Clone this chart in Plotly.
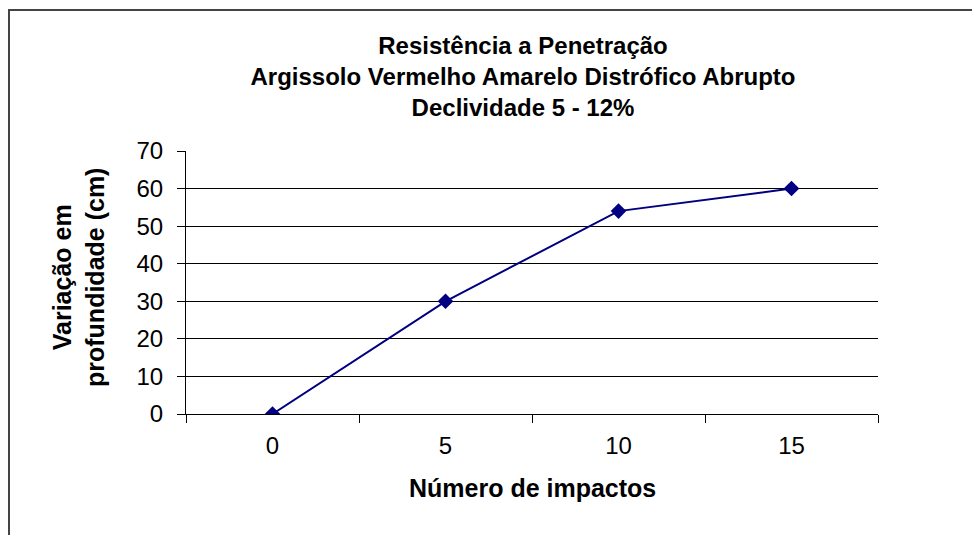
import plotly.graph_objects as go

# data
impactos = ["0", "5", "10", "15"]
profundidade = [0, 30, 54, 60]
y_ticks = [0, 10, 20, 30, 40, 50, 60, 70]
grid_vals = [10, 20, 30, 40, 50, 60]

FONT = "Liberation Sans, Arial, sans-serif"

# page body adds ~8px offset, so the figure is a bit smaller than the window
W, H = 972, 527
OFF = 8
PW, PH = 692, 263  # plot area size in px

fig = go.Figure()

fig.add_trace(go.Scatter(
    x=impactos,
    y=profundidade,
    mode="lines+markers",
    line=dict(color="#000080", width=2),
    marker=dict(symbol="diamond", size=12, color="#000080"),
    showlegend=False,
))

# invisible trace to carry the gridline axis (no gridline at 70)
fig.add_trace(go.Scatter(x=[impactos[0]], y=[0], yaxis="y2", mode="markers",
                         marker=dict(opacity=0), showlegend=False, hoverinfo="skip"))

fig.update_layout(
    width=W, height=H,
    margin=dict(l=186 - OFF, r=W - (878 - OFF), t=151 - OFF, b=H - (414 - OFF)),
    paper_bgcolor="white",
    plot_bgcolor="white",
    font=dict(family=FONT, size=24, color="black"),
    title=dict(
        text="<b>Resistência a Penetração<br>Argissolo Vermelho Amarelo Distrófico Abrupto<br>Declividade 5 - 12%</b>",
        x=(523 - OFF) / W, xanchor="center",
        y=1 - (54 - OFF) / H, yanchor="top",
        font=dict(size=24, family=FONT),
    ),
    xaxis=dict(
        type="category",
        range=[-0.5, 3.5],
        tickson="boundaries",
        ticks="outside", ticklen=8, tickcolor="black", tickwidth=1,
        ticklabelstandoff=10,
        showline=True, linecolor="black", linewidth=1,
        showgrid=False, zeroline=False,
        tickfont=dict(size=24),
        fixedrange=True,
    ),
    yaxis=dict(
        range=[0, 70],
        tickvals=y_ticks,
        ticks="outside", ticklen=8, tickcolor="black", tickwidth=1,
        ticklabelstandoff=9,
        showline=True, linecolor="black", linewidth=1,
        showgrid=False, zeroline=False,
        tickfont=dict(size=24),
        fixedrange=True,
    ),
    yaxis2=dict(
        range=[0, 70],
        overlaying="y",
        tickvals=grid_vals,
        showticklabels=False,
        showgrid=True, gridcolor="black", gridwidth=1,
        zeroline=False, showline=False, ticks="",
        fixedrange=True,
    ),
    annotations=[
        dict(text="<b>Número de impactos</b>", xref="paper", yref="paper",
             x=0.5, y=-(488 - 414) / PH, xanchor="center", yanchor="middle",
             showarrow=False, font=dict(size=25)),
        dict(text="<b>Variação em<br>profundidade (cm)</b>", xref="paper", yref="paper",
             x=-(186 - 78) / PW, y=(414 - 278) / PH, xanchor="center", yanchor="middle",
             textangle=-90, showarrow=False, font=dict(size=25)),
    ],
    shapes=[
        dict(type="rect", xref="paper", yref="paper",
             x0=(9 - 186) / PW, x1=(1000 - 186) / PW,
             y0=-(560 - 414) / PH, y1=(414 - 10) / PH,
             line=dict(color="#444444", width=2), fillcolor="rgba(0,0,0,0)",
             layer="above"),
    ],
)

fig.write_html("out.html")
